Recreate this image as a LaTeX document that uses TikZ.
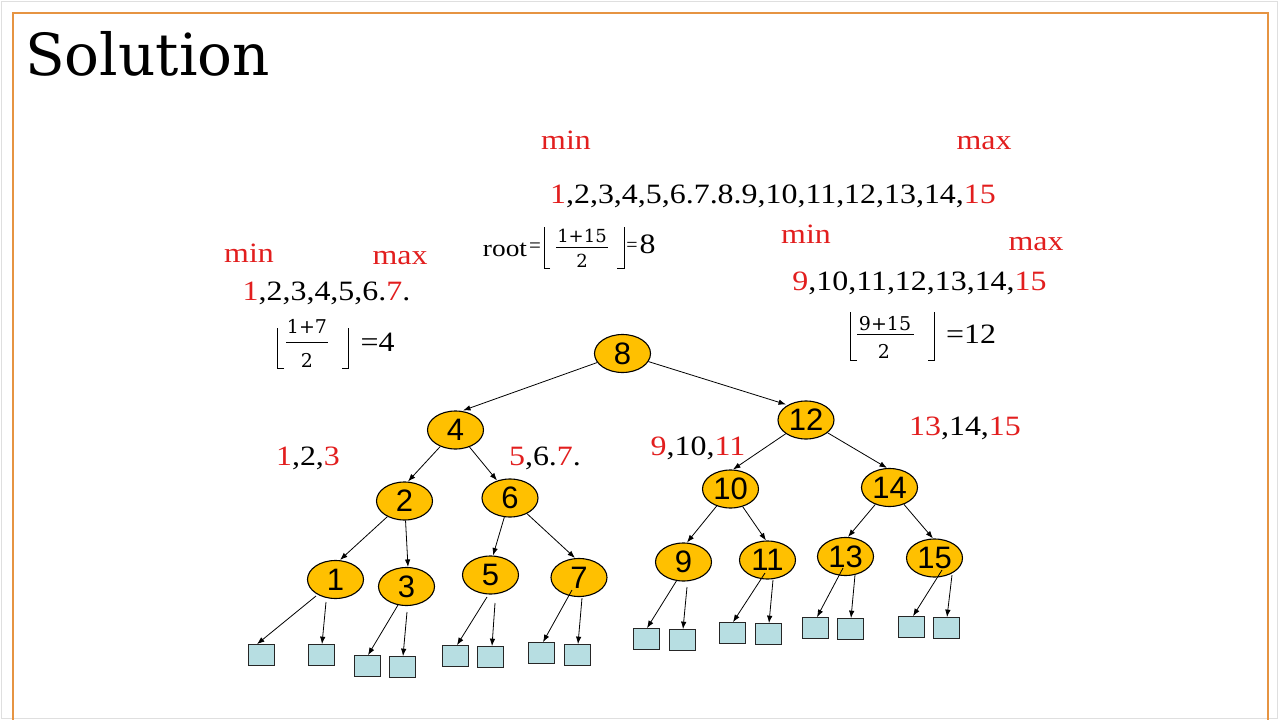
\documentclass[tikz,border=0pt]{standalone}
\usepackage{fontspec}
\usepackage{graphicx}
\setmainfont{Liberation Serif}
\newfontfamily\arialf{Liberation Sans}
\newfontfamily\slabf{DejaVu Serif}
\usetikzlibrary{shapes.geometric,arrows.meta}
\definecolor{myred}{RGB}{226,30,30}
\definecolor{nodefill}{RGB}{255,192,0}
\definecolor{leaffill}{RGB}{183,222,226}
\definecolor{framec}{RGB}{230,148,66}
\newcommand\tx[1]{\scalebox{1.14}[1]{\fontsize{28}{30}\selectfont #1}}
\newcommand\rd[1]{\textcolor{myred}{#1}}
\newcommand\nd[1]{{\arialf\fontsize{31}{33}\selectfont #1}}
\newcommand\fr[1]{{\slabf\fontsize{19}{20}\selectfont #1}}
\begin{document}
\begin{tikzpicture}[x=1pt,y=-1pt,
  tnode/.style={ellipse,draw=black,line width=1.1pt,fill=nodefill,minimum width=56pt,minimum height=38pt,inner sep=0pt},
  leaf/.style={rectangle,draw=black!85,line width=0.7pt,fill=leaffill,minimum width=26pt,minimum height=21pt,inner sep=0pt},
  arr/.style={line width=0.8pt,-{Latex[length=7.5pt,width=5.5pt]}},
  lbl/.style={anchor=base,inner sep=0pt},
  brk/.style={line width=1pt}]
\useasboundingbox (0,0) rectangle (1280,720);
\fill[white] (0,0) rectangle (1280,720);
\draw[gray!25,line width=1pt] (1.5,1.5) rectangle (1277.5,718.5);
\draw[framec,line width=2.5pt] (13,725) -- (13,13) -- (1268,13) -- (1268,725);

% title
\node[anchor=base west,inner sep=0pt] (title) at (25,75) {\slabf\fontsize{58}{60}\selectfont Solution};

% top block
\node[lbl] (tmin) at (566,149) {\tx{\rd{min}}};
\node[lbl] (tmax) at (984,149) {\tx{\rd{max}}};
\node[lbl] (tseq) at (773,203) {\tx{\rd{1},2,3,4,5,6.7.8.9,10,11,12,13,14,\rd{15}}};
\node[lbl] (root) at (505,256) {\scalebox{1.14}[1]{\fontsize{24}{26}\selectfont root}};
\node[lbl] (rooteq) at (535,252) {\fontsize{21}{22}\selectfont =};
\draw[brk] (550,268) -- (544,268) -- (544,227);
\draw[brk] (617,268) -- (624,268) -- (624,227);
\node[lbl] (rnum) at (582,242) {\fontsize{18}{20}\slabf\selectfont 1+15};
\draw[line width=0.8pt] (556,247) -- (608,247);
\node[lbl] (rden) at (582,267) {\fontsize{18}{20}\slabf\selectfont 2};
\node[lbl] (req) at (632,251) {\fontsize{20}{20}\selectfont =};
\node[lbl] (req8) at (647.5,253) {\tx{8}};

% left block
\node[lbl] (lmin) at (249,262) {\tx{\rd{min}}};
\node[lbl] (lmax) at (400,264) {\tx{\rd{max}}};
\node[lbl] (lseq) at (326.5,300) {\tx{\rd{1},2,3,4,5,6.\rd{7}.}};
\draw[brk] (284,368) -- (277,368) -- (277,328);
\draw[brk] (342,368) -- (348,368) -- (348,328);
\node[lbl] (lnum) at (307,333) {\fr{1+7}};
\draw[line width=0.8pt] (286,342) -- (328,342);
\node[lbl] (lden) at (307,367) {\fr{2}};
\node[lbl] (leq) at (377.5,351) {\tx{=4}};

% right block
\node[lbl] (rmin) at (806,243) {\tx{\rd{min}}};
\node[lbl] (rmax) at (1036,250) {\tx{\rd{max}}};
\node[lbl] (rseq) at (919.5,290) {\tx{\rd{9},10,11,12,13,14,\rd{15}}};
\draw[brk] (857,360) -- (850,360) -- (850,312);
\draw[brk] (928,360) -- (934,360) -- (934,312);
\node[lbl] (rnum2) at (885,330) {\fr{9+15}};
\draw[line width=0.8pt] (857,334) -- (914,334);
\node[lbl] (rden2) at (884,358) {\fr{2}};
\node[lbl] (req2) at (971,343) {\tx{=12}};

% range labels
\node[lbl] (g1) at (308,465) {\tx{\rd{1},2,\rd{3}}};
\node[lbl] (g2) at (545,465) {\tx{\rd{5},6.\rd{7}.}};
\node[lbl] (g3) at (698,455) {\tx{\rd{9},10,\rd{11}}};
\node[lbl] (g4) at (965,435) {\tx{\rd{13},14,\rd{15}}};

% tree nodes
\node[tnode] (n8) at (622.5,353.5) {\nd{8}};
\node[tnode] (n4) at (455.5,430) {\nd{4}};
\node[tnode] (n12) at (806,420) {\nd{12}};
\node[tnode] (n2) at (404.5,501) {\nd{2}};
\node[tnode] (n6) at (510,498) {\nd{6}};
\node[tnode] (n10) at (730.5,489) {\nd{10}};
\node[tnode] (n14) at (889.5,487.5) {\nd{14}};
\node[tnode] (n1) at (335.5,579.5) {\nd{1}};
\node[tnode] (n3) at (406.5,586.5) {\nd{3}};
\node[tnode] (n5) at (490.5,575) {\nd{5}};
\node[tnode] (n7) at (579,577.5) {\nd{7}};
\node[tnode] (n9) at (683.5,562) {\nd{9}};
\node[tnode] (n11) at (767.5,560) {\nd{11}};
\node[tnode] (n13) at (845.5,556.5) {\nd{13}};
\node[tnode] (n15) at (934.5,558) {\nd{15}};

% leaves
\node[leaf] (s1) at (261,655) {};
\node[leaf] (s2) at (321,655) {};
\node[leaf] (s3) at (367,666) {};
\node[leaf] (s4) at (402,667) {};
\node[leaf] (s5) at (455,656) {};
\node[leaf] (s6) at (490,657) {};
\node[leaf] (s7) at (541,653) {};
\node[leaf] (s8) at (577,655) {};
\node[leaf] (s9) at (646,639) {};
\node[leaf] (s10) at (682,640) {};
\node[leaf] (s11) at (732,633) {};
\node[leaf] (s12) at (768,634) {};
\node[leaf] (s13) at (815,628) {};
\node[leaf] (s14) at (850,629) {};
\node[leaf] (s15) at (911,627) {};
\node[leaf] (s16) at (946,628) {};

% internal edges
\draw[arr] (n8) -- ([shift={(7.5,0)}]n4.north);
\draw[arr] (n8) -- ([shift={(-20,4)}]n12.north);
\draw[arr] (n4) -- ([shift={(3.5,0)}]n2.north);
\draw[arr] (n4) -- ([shift={(-13,2)}]n6.north);
\draw[arr] (n12) -- ([shift={(2.5,0)}]n10.north);
\draw[arr] (n12) -- ([shift={(-2.5,0)}]n14.north);
\draw[arr] (n2) -- ([shift={(4.5,0)}]n1.north);
\draw[arr] (n2) -- ([shift={(1.5,0)}]n3.north);
\draw[arr] (n6) -- ([shift={(2.5,0)}]n5.north);
\draw[arr] (n6) -- ([shift={(-4,0)}]n7.north);
\draw[arr] (n10) -- ([shift={(3.5,0)}]n9.north);
\draw[arr] (n10) -- ([shift={(-1.5,0)}]n11.north);
\draw[arr] (n14) -- ([shift={(2.5,0)}]n13.north);
\draw[arr] (n14) -- ([shift={(-1.5,0)}]n15.north);

% leaf edges
\draw[arr] ([shift={(-19.5,16.5)}]n1.center) -- ([shift={(-4,0)}]s1.north);
\draw[arr] ([shift={(-9.5,22.5)}]n1.center) -- ([shift={(1,0)}]s2.north);
\draw[arr] ([shift={(-8.5,18.5)}]n3.center) -- ([shift={(1,0)}]s3.north);
\draw[arr] ([shift={(0.5,25.5)}]n3.center) -- ([shift={(1,0)}]s4.north);
\draw[arr] ([shift={(-3.5,22)}]n5.center) -- ([shift={(2,0)}]s5.north);
\draw[arr] ([shift={(4.5,28)}]n5.center) -- ([shift={(2,0)}]s6.north);
\draw[arr] ([shift={(-7,12.5)}]n7.center) -- ([shift={(2,0)}]s7.north);
\draw[arr] ([shift={(3,20.5)}]n7.center) -- ([shift={(1,0)}]s8.north);
\draw[arr] ([shift={(-6.5,18)}]n9.center) -- ([shift={(1,0)}]s9.north);
\draw[arr] ([shift={(3.5,25)}]n9.center) -- ([shift={(1,0)}]s10.north);
\draw[arr] ([shift={(-2.5,13)}]n11.center) -- ([shift={(1,0)}]s11.north);
\draw[arr] ([shift={(5.5,20)}]n11.center) -- ([shift={(1,0)}]s12.north);
\draw[arr] ([shift={(-2.5,11.5)}]n13.center) -- ([shift={(2,0)}]s13.north);
\draw[arr] ([shift={(9.5,18.5)}]n13.center) -- ([shift={(1,0)}]s14.north);
\draw[arr] ([shift={(7.5,12)}]n15.center) -- ([shift={(2,0)}]s15.north);
\draw[arr] ([shift={(17.5,17)}]n15.center) -- ([shift={(1,0)}]s16.north);
\end{tikzpicture}
\end{document}
